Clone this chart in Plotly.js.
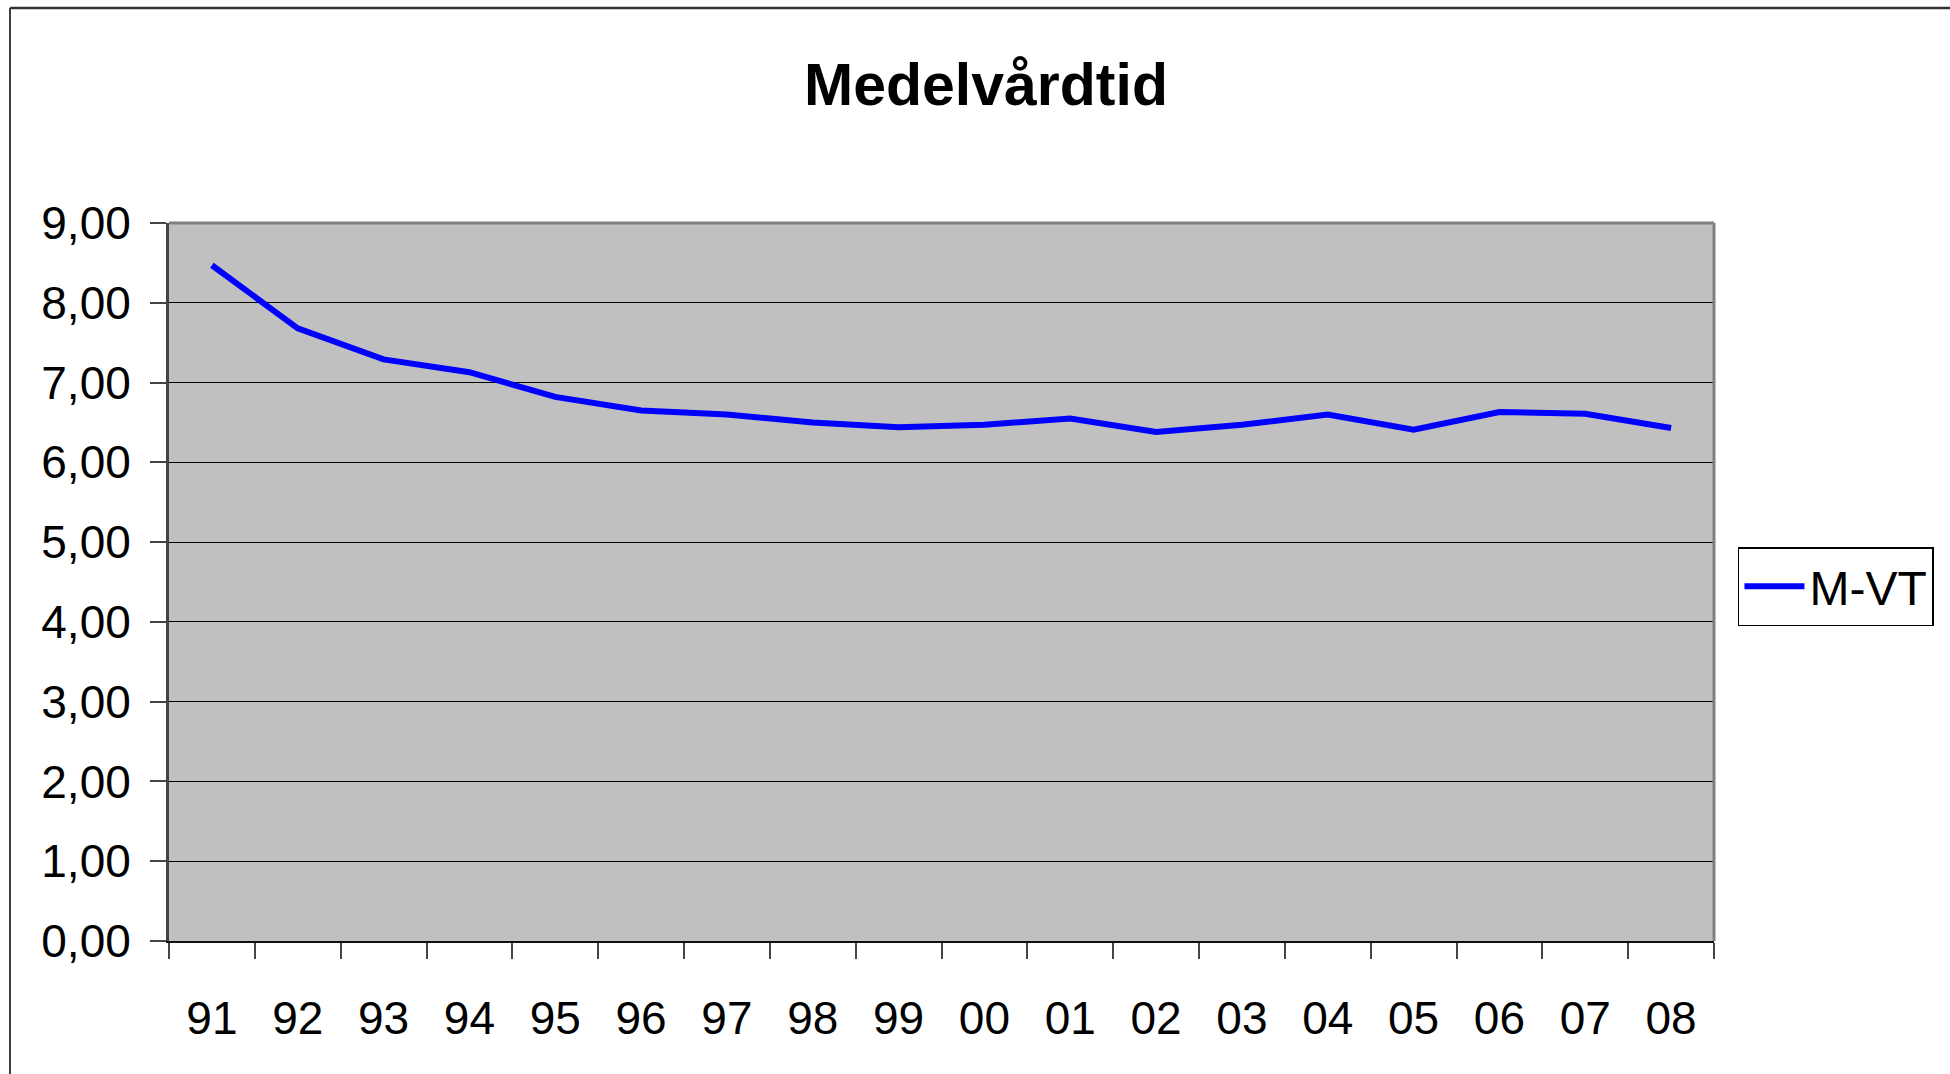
<!DOCTYPE html>
<html>
<head>
<meta charset="utf-8">
<script src="https://cdn.plot.ly/plotly-3.0.1.min.js"></script>
<style>
html, body { margin: 0; padding: 0; background: #ffffff; }
#chart { width: 1950px; height: 1074px; }
</style>
</head>
<body>
<div id="chart"></div>
<script>
const years = ["91","92","93","94","95","96","97","98","99","00","01","02","03","04","05","06","07","08"];
const mvt = [8.47, 7.68, 7.29, 7.13, 6.82, 6.65, 6.60, 6.50, 6.44, 6.47, 6.55, 6.38, 6.47, 6.60, 6.41, 6.63, 6.61, 6.43];
const seriesName = "M-VT";
const chartTitle = "Medelvårdtid";
const yTicks = [0, 1, 2, 3, 4, 5, 6, 7, 8, 9];

const FONT = "Arial, 'Liberation Sans', sans-serif";

const trace = {
  type: "scatter",
  mode: "lines",
  x: years,
  y: mvt,
  name: seriesName,
  line: { color: "#0000FF", width: 6 },
  showlegend: true
};

const layout = {
  width: 1950,
  height: 1074,
  margin: { l: 169, r: 236, t: 223, b: 133, pad: 0 },
  paper_bgcolor: "#ffffff",
  plot_bgcolor: "#C0C0C0",
  separators: ", ",
  font: { family: FONT, color: "#000000", size: 46 },
  title: {
    text: "<b>" + chartTitle + "</b>",
    font: { family: FONT, size: 59, color: "#000000" },
    xref: "paper", x: 0.5288, xanchor: "center",
    yref: "container", y: 0.921, yanchor: "middle"
  },
  xaxis: {
    type: "category",
    range: [-0.5, years.length - 0.5],
    showgrid: false,
    zeroline: false,
    showline: true,
    linecolor: "#111111",
    linewidth: 2,
    ticks: "outside",
    tickson: "boundaries",
    ticklen: 16,
    tickwidth: 2,
    tickcolor: "#444444",
    tickfont: { family: FONT, size: 46, color: "#000000" },
    ticklabelstandoff: 36,
    fixedrange: true
  },
  yaxis: {
    range: [0, 9],
    tickvals: yTicks,
    tickformat: ".2f",
    showgrid: true,
    gridcolor: "#000000",
    gridwidth: 1.2,
    zeroline: false,
    showline: true,
    linecolor: "#444444",
    linewidth: 3,
    ticks: "outside",
    ticklen: 16,
    tickwidth: 2,
    tickcolor: "#444444",
    tickfont: { family: FONT, size: 46, color: "#000000" },
    ticklabelstandoff: 10,
    fixedrange: true
  },
  legend: {
    x: 1.0155, xanchor: "left",
    y: 0.5487, yanchor: "top",
    bgcolor: "#ffffff",
    bordercolor: "#000000",
    borderwidth: 1.5,
    font: { family: FONT, size: 48, color: "#000000" },
    itemwidth: 60,
    tracegroupgap: 0
  },
  shapes: [
    { type: "line", xref: "paper", yref: "paper", x0: 0, x1: 1, y0: 1, y1: 1,
      line: { color: "#808080", width: 3 }, layer: "above" },
    { type: "line", xref: "paper", yref: "paper", x0: 1, x1: 1, y0: 0, y1: 1,
      line: { color: "#808080", width: 3 }, layer: "above" },
    { type: "line", xref: "paper", yref: "paper", x0: -0.1029, x1: -0.1029, y0: -0.3, y1: 1.2994,
      line: { color: "#000000", width: 1.5 }, layer: "above" },
    { type: "line", xref: "paper", yref: "paper", x0: -0.1029, x1: 1.3, y0: 1.2994, y1: 1.2994,
      line: { color: "#333333", width: 2.5 }, layer: "above" }
  ],
  hovermode: false
};

Plotly.newPlot("chart", [trace], layout, { staticPlot: true, displayModeBar: false });
</script>
</body>
</html>
